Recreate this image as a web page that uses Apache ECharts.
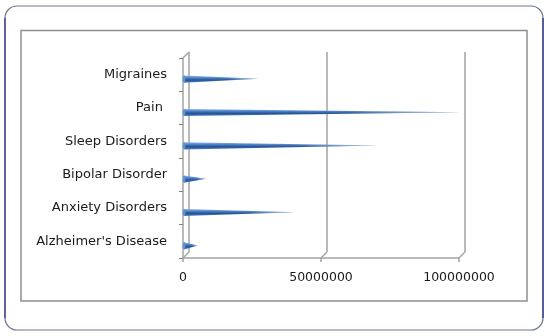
<!DOCTYPE html>
<html>
<head>
<meta charset="utf-8">
<script src="https://cdn.jsdelivr.net/npm/echarts@6/dist/echarts.min.js"></script>
<style>
  html, body { margin: 0; padding: 0; background: #ffffff; }
  #chart { width: 548px; height: 336px; }
</style>
</head>
<body>
<div id="chart"></div>
<script>
// Conditions, listed top to bottom
const categories = ['Migraines', 'Pain ', 'Sleep Disorders', 'Bipolar Disorder', 'Anxiety Disorders', "Alzheimer's Disease"];
// Value for each condition (same order as categories)
const values = [27000000, 100000000, 70000000, 8000000, 40000000, 5000000];
// Value axis range and ticks
const axisMin = 0;
const axisMax = 100000000;
const axisStep = 50000000;
const tickValues = [0, 50000000, 100000000];

const DEPTH = 6;          // pseudo-3D depth offset of the back wall, px
const CONE_HALF = 3.6;    // half thickness of a cone at its base, px
const CONE_DY = 4.5;      // cones sit slightly below the band centre

const chart = echarts.init(document.getElementById('chart'), null, { renderer: 'canvas' });

const labelFont = '"DejaVu Sans", "Open Sans", sans-serif';
const gridColor = '#a3a3a3';

// Cone drawn lying on its side from 0 to the value
function renderCone(params, api) {
  const idx = api.value(0);
  const val = api.value(1);
  const base = api.coord([0, idx]);
  const tip = api.coord([val, idx]);
  const bx = base[0] + 1;
  const tx = tip[0] + 1;
  const cy = base[1] + CONE_DY;
  const pts = [[bx, cy - CONE_HALF], [tx, cy - 0.3], [bx, cy + CONE_HALF]];
  return {
    type: 'group',
    children: [
      {
        type: 'polygon',
        shape: { points: pts },
        style: {
          fill: new echarts.graphic.LinearGradient(0, 0, 0, 1, [
            { offset: 0, color: '#8fb8ea' },
            { offset: 0.3, color: '#4f84cc' },
            { offset: 0.62, color: '#22508f' },
            { offset: 1, color: '#4f84cc' }
          ])
        }
      },
      {
        type: 'polygon',
        shape: { points: pts },
        style: {
          fill: new echarts.graphic.LinearGradient(0, 0, 1, 0, [
            { offset: 0, color: 'rgba(255,255,255,0)' },
            { offset: 0.6, color: 'rgba(255,255,255,0.04)' },
            { offset: 0.88, color: 'rgba(230,240,252,0.5)' },
            { offset: 1, color: 'rgba(240,246,255,0.9)' }
          ])
        }
      },
      {
        type: 'ellipse',
        shape: { cx: bx, cy: cy, rx: 1.4, ry: CONE_HALF },
        style: { fill: '#5f92d6' }
      }
    ]
  };
}

// Depth connectors between the front axes and the back wall
function renderDepth(params, api) {
  const v = api.value(0);
  const cs = params.coordSys;
  const x = api.coord([v, 0])[0];
  const bottom = cs.y + cs.height;
  const children = [{
    type: 'line',
    shape: { x1: x, y1: bottom, x2: x + DEPTH, y2: bottom - DEPTH },
    style: { stroke: gridColor, lineWidth: 1.5 }
  }];
  if (params.dataIndex === 0) {
    children.push({
      type: 'line',
      shape: { x1: cs.x, y1: cs.y, x2: cs.x + DEPTH, y2: cs.y - DEPTH },
      style: { stroke: gridColor, lineWidth: 1.5 }
    });
  }
  return { type: 'group', children: children };
}

const option = {
  animation: false,
  backgroundColor: '#ffffff',
  graphic: [
    {
      type: 'rect',
      shape: { x: 5, y: 6, width: 538, height: 324, r: 12 },
      style: { fill: 'none', stroke: '#6e7390', lineWidth: 1.2 },
      z: 0
    },
    {
      type: 'line',
      shape: { x1: 5, y1: 18, x2: 5, y2: 318 },
      style: { stroke: '#2c3580', lineWidth: 1.2 }
    },
    {
      type: 'line',
      shape: { x1: 543, y1: 18, x2: 543, y2: 318 },
      style: { stroke: '#1d2a8a', lineWidth: 1.2 }
    },
    {
      type: 'rect',
      shape: { x: 21, y: 30.5, width: 506, height: 270.5 },
      style: { fill: 'none', stroke: '#8f8f8f', lineWidth: 1.5 }
    }
  ],
  grid: [
    // back wall
    { left: 183 + DEPTH, top: 58 - DEPTH, width: 276, height: 200, containLabel: false },
    // front axes
    { left: 183, top: 58, width: 276, height: 200, containLabel: false }
  ],
  xAxis: [
    {
      gridIndex: 0, type: 'value', min: axisMin, max: axisMax, interval: axisStep,
      axisLine: { show: false }, axisTick: { show: false }, axisLabel: { show: false },
      splitLine: { show: true, lineStyle: { color: gridColor, width: 1.5 } }
    },
    {
      gridIndex: 1, type: 'value', min: axisMin, max: axisMax, interval: axisStep,
      axisLine: { show: true, lineStyle: { color: gridColor, width: 1.5 } },
      axisTick: { show: true, length: 4, lineStyle: { color: gridColor, width: 1.5 } },
      axisLabel: {
        show: true, margin: 13, color: '#1a1a1a', fontSize: 12.5, fontFamily: labelFont,
        formatter: function (v) { return String(v); }
      },
      splitLine: { show: false }
    }
  ],
  yAxis: [
    {
      gridIndex: 0, type: 'category', data: categories, inverse: true,
      axisLine: { show: false }, axisTick: { show: false }, axisLabel: { show: false },
      splitLine: { show: false }
    },
    {
      gridIndex: 1, type: 'category', data: categories, inverse: true,
      axisLine: { show: true, lineStyle: { color: gridColor, width: 1.5 } },
      axisTick: { show: true, length: 4, lineStyle: { color: '#808080', width: 1 } },
      axisLabel: { margin: 16, color: '#1a1a1a', fontSize: 13, fontFamily: labelFont },
      splitLine: { show: false }
    }
  ],
  series: [
    {
      type: 'custom',
      xAxisIndex: 1, yAxisIndex: 1,
      renderItem: renderDepth,
      data: tickValues.map(function (v) { return [v]; }),
      silent: true,
      z: 1
    },
    {
      type: 'custom',
      xAxisIndex: 1, yAxisIndex: 1,
      renderItem: renderCone,
      encode: { x: 1, y: 0 },
      data: values.map(function (v, i) { return [i, v]; }),
      z: 3
    }
  ]
};

chart.setOption(option);
</script>
</body>
</html>
